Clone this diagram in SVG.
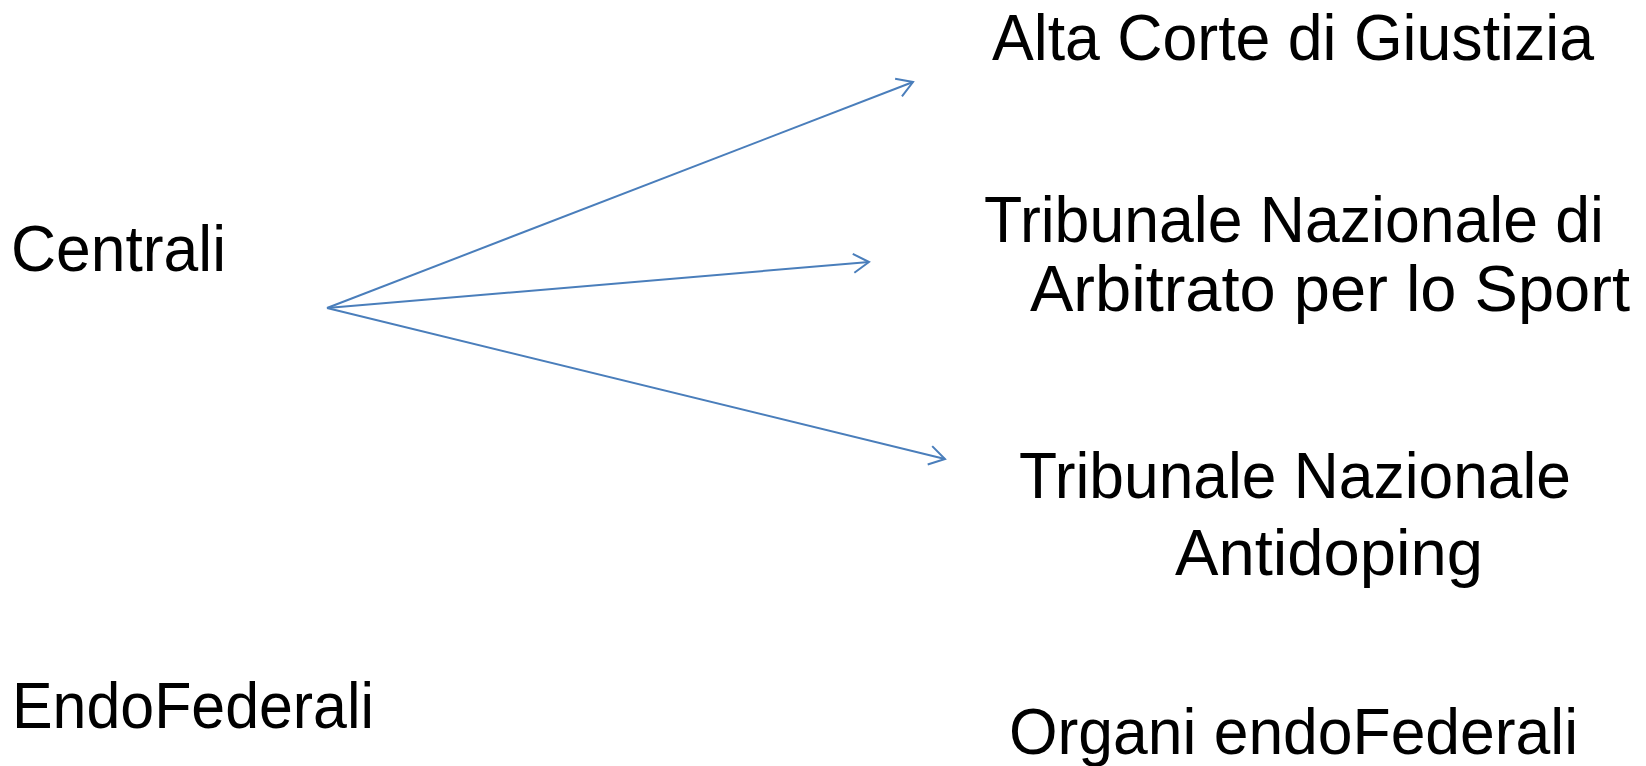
<svg xmlns="http://www.w3.org/2000/svg" width="1646" height="766" viewBox="0 0 1646 766">
<style>
  .lbl { font-family: "Liberation Sans", Arial, sans-serif; font-size: 64px; fill: #000; }
  .conn { stroke: #4A7EBB; stroke-width: 2; fill: none; }
</style>
<defs>
  <marker id="open" markerUnits="userSpaceOnUse" viewBox="-18 -11 20 22" refX="0" refY="0" markerWidth="20" markerHeight="22" orient="auto" overflow="visible">
    <path d="M-15.5,-9.5 L0,0 L-15.5,9.5" fill="none" stroke="#4A7EBB" stroke-width="2" stroke-linejoin="miter"/>
  </marker>
</defs>
<rect width="1646" height="766" fill="#fff"/>
<g id="centrali"><text class="lbl" x="11" y="271" textLength="215" lengthAdjust="spacingAndGlyphs">Centrali</text></g>
<g id="endofederali"><text class="lbl" x="12" y="728" textLength="362" lengthAdjust="spacingAndGlyphs">EndoFederali</text></g>
<g id="alta-corte"><text class="lbl" x="992" y="60" textLength="602" lengthAdjust="spacingAndGlyphs">Alta Corte di Giustizia</text></g>
<g id="tnas"><text class="lbl" x="984" y="242" textLength="620" lengthAdjust="spacingAndGlyphs">Tribunale Nazionale di</text><text class="lbl" x="1030" y="311" textLength="600" lengthAdjust="spacingAndGlyphs">Arbitrato per lo Sport</text></g>
<g id="tna"><text class="lbl" x="1019" y="498" textLength="552" lengthAdjust="spacingAndGlyphs">Tribunale Nazionale</text><text class="lbl" x="1175" y="575" textLength="308" lengthAdjust="spacingAndGlyphs">Antidoping</text></g>
<g id="organi"><text class="lbl" x="1009" y="754" textLength="569" lengthAdjust="spacingAndGlyphs">Organi endoFederali</text></g>
<g id="connectors">
  <line class="conn" x1="327" y1="308" x2="913" y2="82" marker-end="url(#open)"/>
  <line class="conn" x1="327" y1="308" x2="869" y2="262" marker-end="url(#open)"/>
  <line class="conn" x1="327" y1="308" x2="945" y2="459" marker-end="url(#open)"/>
</g>
</svg>
